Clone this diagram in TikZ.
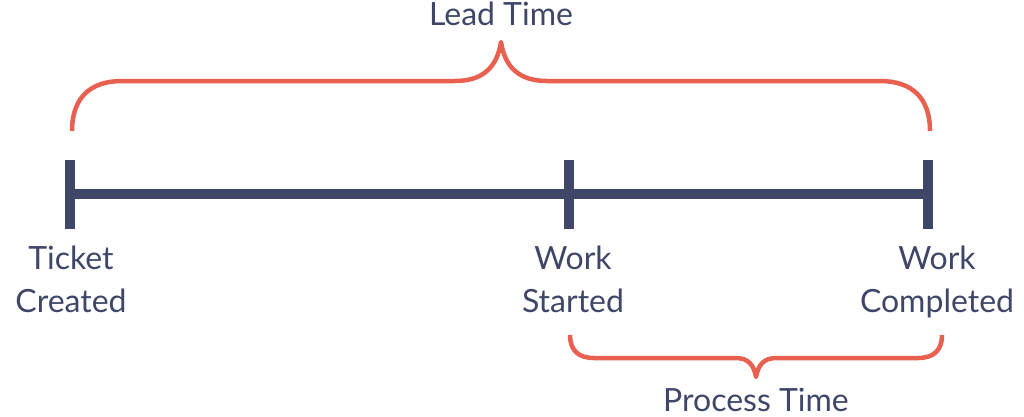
\documentclass[tikz,border=0pt]{standalone}
\usepackage{fontspec}
\setmainfont{Lato}
\definecolor{navy}{HTML}{404668}
\definecolor{coral}{HTML}{E8604F}
\begin{document}
\begin{tikzpicture}[x=1pt,y=-1pt,
  tickline/.style={draw=navy,line width=9.5pt,line cap=butt},
  axisline/.style={draw=navy,line width=10pt,line cap=butt},
  bracepath/.style={draw=coral,line width=4.5pt,line cap=butt,line join=round},
  lbl/.style={text=navy,font=\fontsize{32}{43}\selectfont,align=center,inner sep=0pt,anchor=base}]
\useasboundingbox (0,0) rectangle (1024,416);
% ticks
\coordinate (t1a) at (70,160); \coordinate (t1b) at (70,229);
\coordinate (t2a) at (569,160); \coordinate (t2b) at (569,229);
\coordinate (t3a) at (928,160); \coordinate (t3b) at (928,229);
\coordinate (a1) at (70,194); \coordinate (a3) at (928,194);
\draw[axisline] (a1) -- (a3);
\draw[tickline] (t1a) -- (t1b);
\draw[tickline] (t2a) -- (t2b);
\draw[tickline] (t3a) -- (t3b);
% lead time brace
\coordinate (l1) at (72,131);
\coordinate (ltip) at (501,42);
\coordinate (l2) at (930,131);
\draw[bracepath] (l1) .. controls (72,98) and (90,81) .. (122,81) -- (455,81)
  .. controls (482,81) and (497,68) .. (ltip)
  .. controls (505,68) and (520,81) .. (547,81) -- (880,81)
  .. controls (912,81) and (930,98) .. (l2);
% process time brace
\coordinate (p1) at (570,335);
\coordinate (ptip) at (756,377);
\coordinate (p2) at (942,335);
\draw[bracepath] (p1) .. controls (570,350) and (578,358) .. (594,358) -- (736,358)
  .. controls (748,358) and (754,365) .. (ptip)
  .. controls (758,365) and (764,358) .. (776,358) -- (918,358)
  .. controls (934,358) and (942,350) .. (p2);
% labels
\node[lbl] (lead) at (501,25) {Lead Time};
\node[lbl] (proc) at (756,411) {Process Time};
\node[lbl] (ticket) at (71,312) {Ticket\\Created};
\node[lbl] (started) at (573,312) {Work\\Started};
\node[lbl] (completed) at (937,312) {Work\\Completed};
\end{tikzpicture}
\end{document}
